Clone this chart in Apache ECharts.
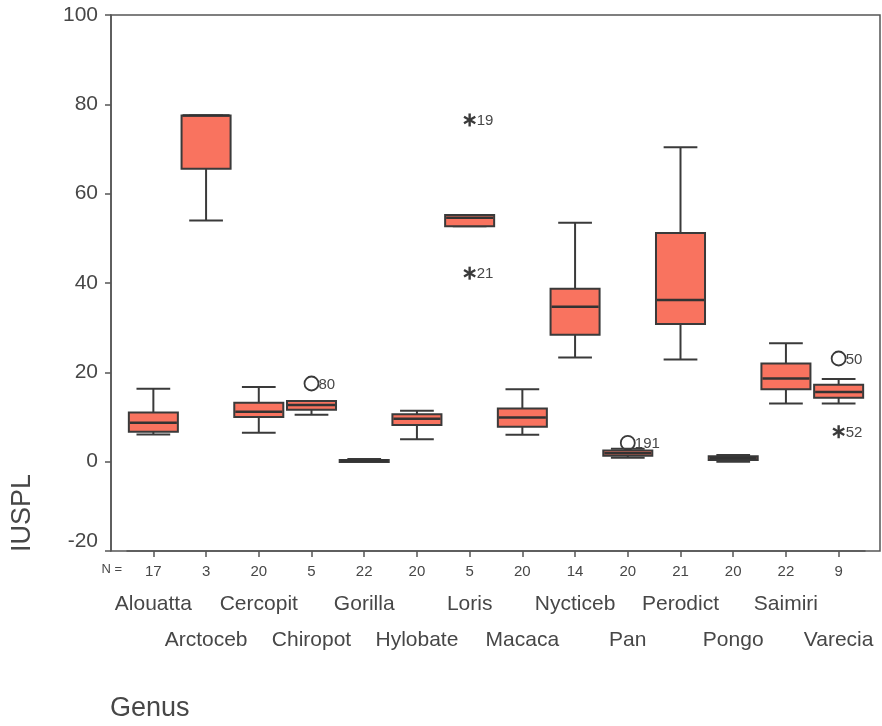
<!DOCTYPE html>
<html>
<head>
<meta charset="utf-8">
<script src="https://cdn.jsdelivr.net/npm/echarts/dist/echarts.min.js"></script>
<style>
html,body{margin:0;padding:0;background:#ffffff;}
#c{width:882px;height:726px;}
</style>
</head>
<body>
<div id="c"></div>
<script>
// ---- data ----
const genera = ['Alouatta','Arctoceb','Cercopit','Chiropot','Gorilla','Hylobate','Loris','Macaca','Nycticeb','Pan','Perodict','Pongo','Saimiri','Varecia'];
const nCounts = [17, 3, 20, 5, 22, 20, 5, 20, 14, 20, 21, 20, 22, 9];
const whiskerLow  = [6.1, 54.0,  6.5, 10.5, 0.0, 5.0, 52.7,  6.0, 23.3, 0.9, 22.9, 0.0, 13.0, 13.0];
const quart1      = [6.7, 65.6, 10.0, 11.6, 0.1, 8.2, 52.7,  7.8, 28.4, 1.3, 30.8, 0.4, 16.2, 14.3];
const medians     = [8.7, 77.5, 11.2, 12.7, 0.2, 9.6, 54.6,  9.9, 34.7, 1.9, 36.2, 0.8, 18.6, 15.6];
const quart3      = [11.0, 77.5, 13.2, 13.6, 0.4, 10.6, 55.2, 11.9, 38.7, 2.5, 51.2, 1.2, 22.0, 17.2];
const whiskerHigh = [16.3, 77.5, 16.7, 13.6, 0.6, 11.4, 55.2, 16.2, 53.5, 2.9, 70.4, 1.5, 26.5, 18.5];

const outlierGenus   = ['Chiropot','Loris','Loris','Pan','Varecia','Varecia'];
const outlierValue   = [17.5, 76.5, 42.2, 4.2, 23.1, 6.7];
const outlierCase    = ['80','19','21','191','50','52'];
const outlierExtreme = [0, 1, 1, 0, 0, 1];

const yMin = -20, yMax = 100, yStep = 20;

// ---- styling ----
const FONT = 'Liberation Sans, Arial, sans-serif';
const TXT = '#474747';
const AX = '#555555';
const BOX_FILL = '#f9735f';
const INK = '#3a3a3a';

const boxData = genera.map((g, i) => [i, whiskerLow[i], quart1[i], medians[i], quart3[i], whiskerHigh[i]]);
const outlierData = outlierGenus.map((g, k) => [genera.indexOf(g), outlierValue[k], outlierExtreme[k]]);

function renderBox(params, api) {
  const i = api.value(0);
  const lo = api.coord([i, api.value(1)]);
  const b1 = api.coord([i, api.value(2)]);
  const md = api.coord([i, api.value(3)]);
  const b3 = api.coord([i, api.value(4)]);
  const hi = api.coord([i, api.value(5)]);
  const band = api.size([1, 0])[0];
  const bw = band * 0.93, cw = band * 0.64;
  const cx = lo[0];
  const ls = () => ({stroke: INK, lineWidth: 2});
  return {
    type: 'group',
    children: [
      {type: 'line', shape: {x1: cx, y1: lo[1], x2: cx, y2: b1[1]}, style: ls()},
      {type: 'line', shape: {x1: cx, y1: b3[1], x2: cx, y2: hi[1]}, style: ls()},
      {type: 'line', shape: {x1: cx - cw / 2, y1: lo[1], x2: cx + cw / 2, y2: lo[1]}, style: ls()},
      {type: 'line', shape: {x1: cx - cw / 2, y1: hi[1], x2: cx + cw / 2, y2: hi[1]}, style: ls()},
      {type: 'rect', shape: {x: cx - bw / 2, y: b3[1], width: bw, height: Math.max(b1[1] - b3[1], 2)},
       style: {fill: BOX_FILL, stroke: INK, lineWidth: 2}},
      {type: 'line', shape: {x1: cx - bw / 2 + 1, y1: md[1], x2: cx + bw / 2 - 1, y2: md[1]},
       style: {stroke: '#333333', lineWidth: 2.5}}
    ]
  };
}

function renderOutlier(params, api) {
  const p = api.coord([api.value(0), api.value(1)]);
  const extreme = api.value(2) === 1;
  const cx = p[0], cy = p[1];
  const children = [];
  if (extreme) {
    const r = 6.5;
    [90, 30, 150].forEach(deg => {
      const a = deg * Math.PI / 180;
      children.push({type: 'line',
        shape: {x1: cx - r * Math.cos(a), y1: cy - r * Math.sin(a), x2: cx + r * Math.cos(a), y2: cy + r * Math.sin(a)},
        style: {stroke: INK, lineWidth: 2.4}});
    });
  } else {
    children.push({type: 'circle', shape: {cx: cx, cy: cy, r: 7}, style: {fill: '#ffffff', stroke: INK, lineWidth: 1.8}});
  }
  children.push({type: 'text', style: {
    text: outlierCase[params.dataIndex], x: cx + 7, y: cy + 1,
    align: 'left', verticalAlign: 'middle', fill: TXT, font: '15px ' + FONT}});
  return {type: 'group', children: children};
}

const chart = echarts.init(document.getElementById('c'), null, {renderer: 'canvas'});
chart.setOption({
  animation: false,
  backgroundColor: '#ffffff',
  grid: [
    {left: 127, right: 17, top: 15, bottom: 175},
    {left: 111, right: 2, top: 15, bottom: 175, show: true, borderColor: AX, borderWidth: 1.5, backgroundColor: 'transparent'}
  ],
  xAxis: [
    {
      type: 'category', gridIndex: 0, data: genera, position: 'bottom',
      axisLine: {show: true, onZero: false, lineStyle: {color: AX, width: 1.5}},
      axisTick: {show: true, alignWithLabel: true, length: 6, lineStyle: {color: AX, width: 1.5}},
      axisLabel: {
        interval: 0, margin: 10, color: TXT, fontFamily: FONT,
        formatter: function (v, i) {
          return '{n|' + nCounts[i] + '}\n' + (i % 2 === 0 ? '{a|' + v + '}' : '{b|' + v + '}');
        },
        rich: {
          n: {fontSize: 15, lineHeight: 22, color: TXT, fontFamily: FONT},
          a: {fontSize: 21, lineHeight: 42, color: TXT, fontFamily: FONT},
          b: {fontSize: 21, lineHeight: 114, color: TXT, fontFamily: FONT}
        }
      },
      splitLine: {show: false}
    },
    {type: 'value', gridIndex: 1, show: false}
  ],
  yAxis: [
    {
      type: 'value', gridIndex: 0, min: yMin, max: yMax, interval: yStep, offset: 16,
      axisLine: {show: true, lineStyle: {color: AX, width: 1.5}},
      axisTick: {show: true, length: 6, lineStyle: {color: AX, width: 1.5}},
      axisLabel: {
        margin: 13, color: TXT, fontSize: 21, fontFamily: FONT,
        formatter: function (v) { return v === yMin ? '{lift|' + v + '}' : String(v); },
        rich: {lift: {fontSize: 21, color: TXT, fontFamily: FONT, padding: [0, 0, 20, 0]}}
      },
      splitLine: {show: false}
    },
    {type: 'value', gridIndex: 1, show: false}
  ],
  graphic: [
    {type: 'text', left: 9, top: 474, rotation: Math.PI / 2,
     style: {text: 'IUSPL', fill: TXT, font: '27px ' + FONT}},
    {type: 'text', left: 110, top: 695,
     style: {text: 'Genus', fill: TXT, font: '27px ' + FONT}},
    {type: 'text', right: 882 - 122, top: 563,
     style: {text: 'N =', fill: TXT, font: '13px ' + FONT}}
  ],
  series: [
    {type: 'custom', name: 'outliers', xAxisIndex: 0, yAxisIndex: 0, z: 2,
     encode: {x: 0, y: 1}, data: outlierData, renderItem: renderOutlier},
    {type: 'custom', name: 'boxes', xAxisIndex: 0, yAxisIndex: 0, z: 3,
     encode: {x: 0, y: [1, 2, 3, 4, 5]}, data: boxData, renderItem: renderBox}
  ]
});
</script>
</body>
</html>
